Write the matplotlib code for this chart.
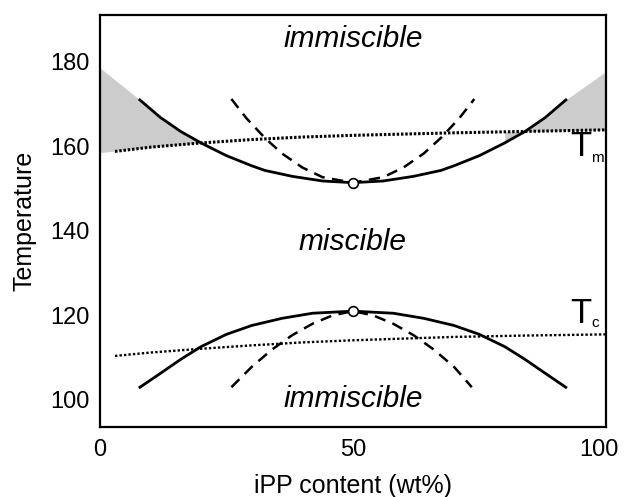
import matplotlib.pyplot as plt
import matplotlib.transforms as mtransforms
import numpy as np

plt.rcParams['font.family'] = ['Liberation Sans', 'DejaVu Sans']

# upper binodal (solid) and spinodal (dashed) around Tm
upper_bin_x = [7.7, 12, 16, 20, 25, 30, 32.6, 38, 44, 50, 56, 62, 67.4, 70, 75, 80, 84, 88, 92.3]
upper_bin_t = [171.2, 166.8, 163.5, 160.8, 157.8, 155.4, 154.3, 152.9, 151.8, 151.4, 151.8, 152.9, 154.3, 155.4, 157.8, 160.8, 163.5, 166.8, 171.2]
upper_spin_x = [26, 29, 32.6, 36, 40, 44, 50, 56, 60, 64, 67.4, 71, 74]
upper_spin_t = [171.2, 166.6, 162.0, 158.3, 155.0, 152.7, 151.4, 152.7, 155.0, 158.3, 162.0, 166.6, 171.2]

# lower binodal (solid) and spinodal (dashed) around Tc
lower_bin_x = [7.7, 12, 16, 20, 25, 30, 36, 42, 50, 58, 64, 70, 75, 80, 84, 88, 92.3]
lower_bin_t = [102.8, 106.3, 109.6, 112.6, 115.5, 117.6, 119.3, 120.5, 121.0, 120.5, 119.3, 117.6, 115.5, 112.6, 109.6, 106.3, 102.8]
lower_spin_x = [26, 30, 34, 38, 42, 46, 50, 54, 58, 62, 66, 70, 73.5]
lower_spin_t = [103.0, 107.8, 111.9, 115.3, 118.0, 120.0, 121.0, 120.0, 118.0, 115.3, 111.9, 107.8, 103.0]

# melting and crystallization temperature lines
tm_x = [0, 3, 10, 20, 30, 40, 50, 60, 70, 83, 100]
tm_t = [158.5, 158.8, 159.8, 160.8, 161.6, 162.2, 162.6, 162.9, 163.2, 163.5, 163.9]
tc_x = [3, 10, 20, 30, 40, 50, 60, 70, 83, 100]
tc_t = [110.4, 111.2, 112.1, 112.9, 113.6, 114.1, 114.5, 114.9, 115.2, 115.5]

# shaded regions above Tm at the edges
shade_left_x = [0, 7.7, 12, 16, 20]
shade_left_top = [178.6, 171.2, 166.8, 163.5, 160.8]
shade_right_x = [80, 84, 88, 92.3, 100]
shade_right_top = [160.8, 163.5, 166.8, 171.2, 177.7]

critical_x = [50, 50]
critical_t = [151.4, 121.0]

fig = plt.figure(figsize=(6.24, 4.97), dpi=100)
ax = fig.add_axes([0.160, 0.141, 0.811, 0.829])

lo_l = np.interp(shade_left_x, tm_x, tm_t)
ax.fill_between(shade_left_x, lo_l, shade_left_top, color='#cccccc', lw=0)
lo_r = np.interp(shade_right_x, tm_x, tm_t)
ax.fill_between(shade_right_x, lo_r, shade_right_top, color='#cccccc', lw=0)

ax.plot(tm_x[1:], tm_t[1:], color='black', lw=2.2, ls=(0, (0.8, 0.6)))
ax.plot(tc_x, tc_t, color='black', lw=1.7, ls=(0, (1, 0.9)))

ax.plot(upper_bin_x, upper_bin_t, color='black', lw=2.0, solid_capstyle='butt')
ax.plot(lower_bin_x, lower_bin_t, color='black', lw=2.0, solid_capstyle='butt')
ax.plot(upper_spin_x, upper_spin_t, color='black', lw=1.8, ls=(0, (4.5, 3)))
ax.plot(lower_spin_x, lower_spin_t, color='black', lw=1.8, ls=(0, (4.5, 3)))

ax.plot(critical_x, critical_t, ls='none', marker='o', ms=7, mfc='white', mec='black', mew=1.2, zorder=5)

ax.text(50, 185.3, 'immiscible', style='italic', fontsize=21.5, ha='center', va='center')
ax.text(50, 137.3, 'miscible', style='italic', fontsize=21.5, ha='center', va='center')
ax.text(50, 100.2, 'immiscible', style='italic', fontsize=21.5, ha='center', va='center')

ax.text(95, 157.8, 'T', fontsize=25, ha='center', va='baseline')
ax.text(98.4, 156.3, 'm', fontsize=11, ha='center', va='baseline')
ax.text(95, 118.3, 'T', fontsize=25, ha='center', va='baseline')
ax.text(97.8, 117.3, 'c', fontsize=11, ha='center', va='baseline')

ax.set_xlim(0, 100)
ax.set_ylim(93.6, 191.1)
ax.set_xticks([0, 50, 100])
ax.set_yticks([100, 120, 140, 160, 180])
ax.tick_params(length=0, labelsize=17, pad=7)
ax.tick_params(axis='x', pad=9)
for s in ax.spines.values():
    s.set_linewidth(1.6)

# nudge the last x label so it stays inside the figure
last = ax.get_xticklabels()[-1]
last.set_transform(last.get_transform() + mtransforms.ScaledTranslation(-5 / 72, 0, fig.dpi_scale_trans))

ax.set_xlabel('iPP content (wt%)', fontsize=18, labelpad=9)
ax.set_ylabel('Temperature', fontsize=18, labelpad=10)

fig.savefig('out.png', dpi=100)
